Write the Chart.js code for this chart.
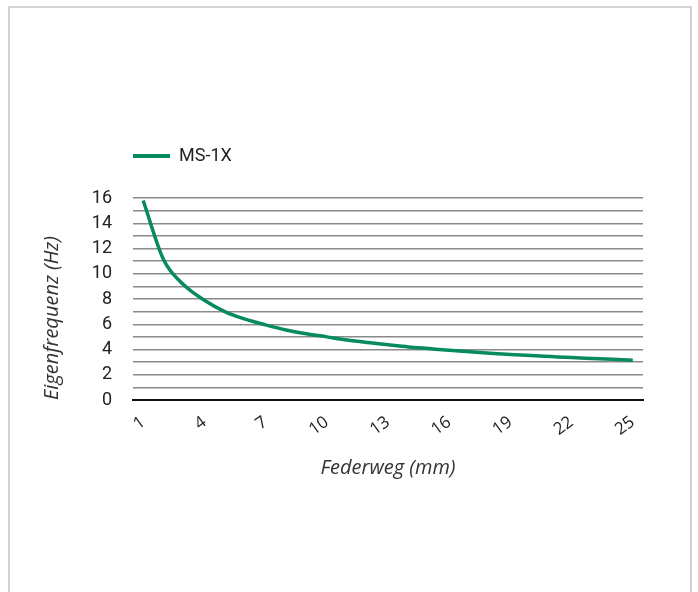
<!DOCTYPE html>
<html>
<head>
<meta charset="utf-8">
<script src="https://cdn.jsdelivr.net/npm/chart.js@4"></script>
<style>
    html, body { margin: 0; padding: 0; background: #fff; }
    body { width: 698px; height: 592px; position: relative; overflow: hidden; }
    .frame {
        position: absolute; left: 8px; top: 6px; width: 684px; height: 620px;
        border: 2px solid #d2d2d2; box-sizing: border-box;
    }
    .chart-box { position: absolute; left: 0; top: 0; width: 698px; height: 592px; }
</style>
</head>
<body>
<div class="frame"></div>
<div class="chart-box"><canvas id="spring-chart"></canvas></div>
<script>
// Federweg in mm (categories)
const federweg = [1, 2, 3, 4, 5, 6, 7, 8, 9, 10, 11, 12, 13, 14, 15, 16, 17, 18, 19, 20, 21, 22, 23, 24, 25];
// Eigenfrequenz in Hz
const eigenfrequenz = [15.8, 11.1, 9.1, 7.9, 7.0, 6.4, 5.95, 5.55, 5.25, 5.0, 4.75, 4.55, 4.37, 4.2, 4.07, 3.94, 3.82, 3.71, 3.61, 3.52, 3.44, 3.36, 3.29, 3.22, 3.15];
const xTickLabels = ['1', '4', '7', '10', '13', '16', '19', '22', '25'];
const yTickLabels = [0, 2, 4, 6, 8, 10, 12, 14, 16];

const green = '#078a5c';

// push the plot down a bit below the legend
const legendSpacer = {
    id: 'legendSpacer',
    beforeInit(chart) {
        const originalFit = chart.legend.fit;
        chart.legend.fit = function () {
            originalFit.bind(chart.legend)();
            this.height += 23;
        };
    }
};

document.addEventListener('DOMContentLoaded', function () {
    const canvas = document.getElementById('spring-chart');

    new Chart(canvas, {
        type: 'line',
        data: {
            labels: federweg.map(String),
            datasets: [{
                label: 'MS-1X',
                data: eigenfrequenz,
                borderColor: green,
                backgroundColor: green,
                borderWidth: 3.5,
                pointRadius: 0,
                tension: 0.4,
                cubicInterpolationMode: 'monotone',
                fill: false
            }]
        },
        options: {
            responsive: true,
            maintainAspectRatio: false,
            animation: false,
            layout: {
                padding: { left: 0, top: 147, right: 55, bottom: 0 }
            },
            plugins: {
                legend: {
                    position: 'top',
                    align: 'start',
                    fullSize: false,
                    labels: {
                        boxWidth: 37,
                        boxHeight: 4,
                        padding: 0,
                        color: '#222',
                        font: { family: 'Roboto', size: 18 },
                        generateLabels: function (chart) {
                            const items = Chart.defaults.plugins.legend.labels.generateLabels(chart);
                            items.forEach(function (item) { item.lineWidth = 0; });
                            return items;
                        }
                    }
                },
                tooltip: { enabled: false }
            },
            scales: {
                x: {
                    type: 'category',
                    offset: true,
                    afterFit: function (scale) { scale.height = 192; },
                    grid: { display: false, drawTicks: false },
                    border: { display: true, color: '#111', width: 2 },
                    ticks: {
                        autoSkip: false,
                        minRotation: 36,
                        maxRotation: 36,
                        padding: 12,
                        color: '#222',
                        font: { family: 'Open Sans', size: 17 },
                        callback: function (value, index) {
                            const label = this.getLabelForValue(value);
                            return xTickLabels.includes(label) ? label : '';
                        }
                    },
                    title: {
                        display: true,
                        text: 'Federweg (mm)',
                        color: '#333',
                        font: { family: 'Open Sans', size: 20, style: 'italic' },
                        padding: { top: 0, bottom: 112 }
                    }
                },
                y: {
                    min: 0,
                    max: 16,
                    afterFit: function (scale) { scale.width = 133; },
                    grid: {
                        color: '#8a8a8a',
                        lineWidth: 1.5,
                        drawTicks: false
                    },
                    border: { display: false },
                    ticks: {
                        stepSize: 1,
                        autoSkip: false,
                        padding: 21,
                        color: '#222',
                        font: { family: 'Roboto', size: 18 },
                        callback: function (value) {
                            return yTickLabels.includes(value) ? value : '';
                        }
                    },
                    title: {
                        display: true,
                        text: 'Eigenfrequenz (Hz)',
                        align: 'start',
                        color: '#333',
                        font: { family: 'Open Sans', size: 20, style: 'italic' },
                        padding: { top: 40, bottom: 0 }
                    }
                }
            }
        },
        plugins: [legendSpacer]
    });
});
</script>
</body>
</html>
